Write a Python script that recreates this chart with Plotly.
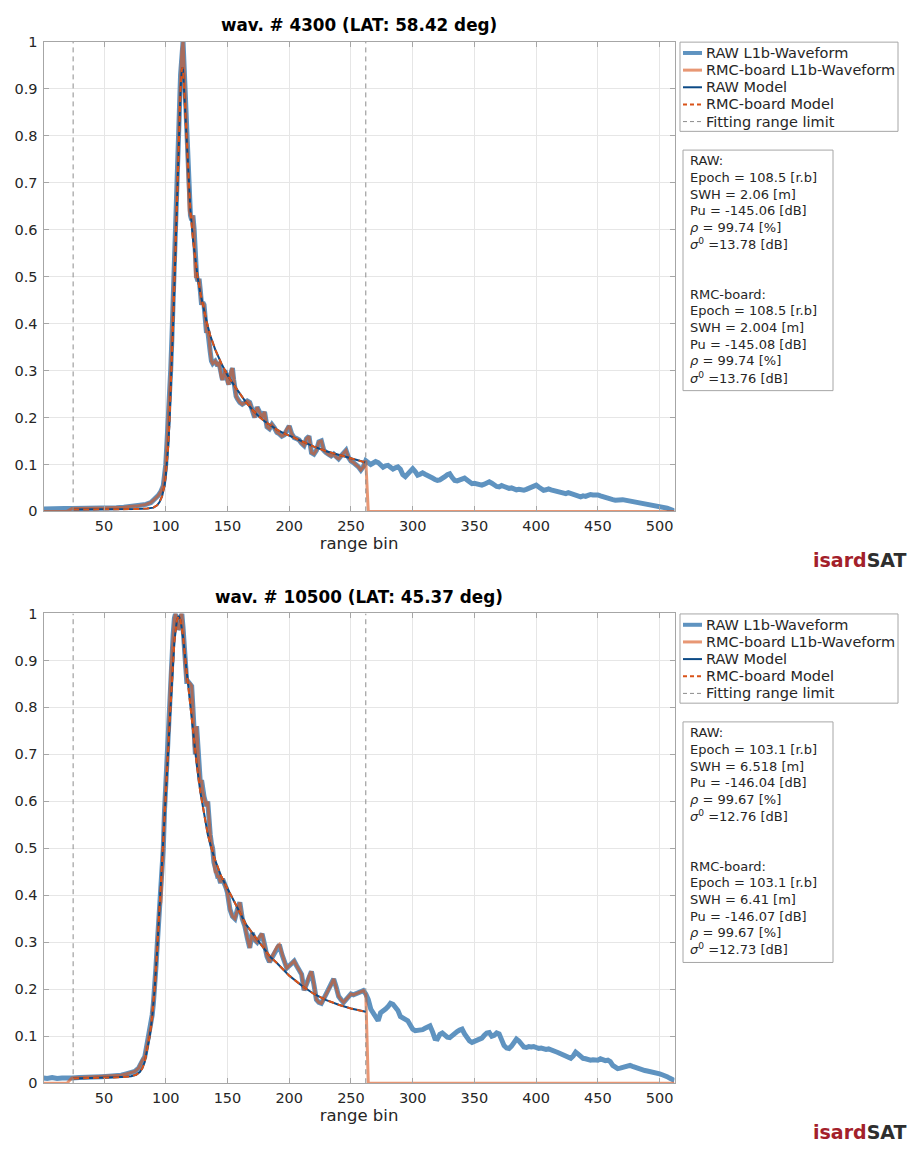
import plotly.graph_objects as go

# the page adds an 8px body margin, so the figure is 16px smaller than the window
W, H = 901, 1134
PAGE_OFF = 8

# ---- shared axis ticks ----
x_ticks = [50, 100, 150, 200, 250, 300, 350, 400, 450, 500]
y_ticks = [0, 0.1, 0.2, 0.3, 0.4, 0.5, 0.6, 0.7, 0.8, 0.9, 1]
y_labels = ["0", "0.1", "0.2", "0.3", "0.4", "0.5", "0.6", "0.7", "0.8", "0.9", "1"]
n_bins = 512
legend_names = ["RAW L1b-Waveform", "RMC-board L1b-Waveform", "RAW Model",
                "RMC-board Model", "Fitting range limit"]

# ---- top panel: wav. # 4300 ----
top_title = "wav. # 4300 (LAT: 58.42 deg)"
top_raw_bins = [1, 6, 12, 18, 24, 30, 36, 42, 48, 54, 60, 66, 72, 78, 84, 88, 91, 94, 96] \
    + list(range(98, 161)) + list(range(162, 513, 2))
top_raw_vals = [
    0.005, 0.006, 0.005, 0.006, 0.006, 0.006, 0.007, 0.007, 0.007, 0.008,
    0.008, 0.009, 0.011, 0.012, 0.015, 0.019, 0.026, 0.034, 0.042,
    # 98 .. 160
    0.055, 0.077, 0.10, 0.147, 0.19, 0.24, 0.30, 0.37, 0.44, 0.51,
    0.58, 0.65, 0.75, 0.85, 0.93, 0.98, 1.0, 0.94, 0.87, 0.80,
    0.72, 0.64, 0.63, 0.62, 0.63, 0.60, 0.50, 0.50, 0.49, 0.495,
    0.47, 0.44, 0.445, 0.44, 0.41, 0.38, 0.385, 0.37, 0.34, 0.32,
    0.315, 0.318, 0.32, 0.315, 0.31, 0.318, 0.30, 0.285, 0.28, 0.29,
    0.30, 0.29, 0.275, 0.27, 0.285, 0.30, 0.305, 0.28, 0.255, 0.245,
    0.24, 0.235, 0.232,
    # 162 .. 512 step 2
    0.228, 0.232, 0.235, 0.232, 0.215, 0.20, 0.222, 0.21, 0.20, 0.212,
    0.18, 0.176, 0.185, 0.178, 0.168, 0.165, 0.16, 0.163, 0.175, 0.182,
    0.165, 0.157, 0.155, 0.152, 0.145, 0.14, 0.155, 0.16, 0.125, 0.122,
    0.13, 0.148, 0.15, 0.13, 0.125, 0.12, 0.118, 0.122, 0.115, 0.112,
    0.118, 0.125, 0.13, 0.115, 0.107, 0.104, 0.10, 0.095, 0.088, 0.095,
    0.108, 0.104, 0.10, 0.103, 0.106, 0.104, 0.098, 0.094, 0.097, 0.098,
    0.094, 0.09, 0.093, 0.095, 0.09, 0.078, 0.074, 0.08, 0.088, 0.091,
    0.085, 0.077, 0.079, 0.082, 0.079, 0.077, 0.074, 0.071, 0.068, 0.066,
    0.067, 0.072, 0.074, 0.078, 0.08, 0.072, 0.066, 0.065, 0.068, 0.07,
    0.071, 0.067, 0.061, 0.059, 0.06, 0.058, 0.057, 0.056, 0.058, 0.06,
    0.063, 0.06, 0.056, 0.053, 0.052, 0.055, 0.053, 0.05, 0.049, 0.05,
    0.048, 0.046, 0.047, 0.045, 0.045, 0.047, 0.049, 0.05, 0.053, 0.056,
    0.052, 0.047, 0.045, 0.046, 0.048, 0.046, 0.045, 0.044, 0.042, 0.04,
    0.039, 0.038, 0.04, 0.038, 0.036, 0.034, 0.032, 0.031, 0.033, 0.032,
    0.034, 0.036, 0.035, 0.036, 0.035, 0.033, 0.031, 0.029, 0.028, 0.027,
    0.025, 0.024, 0.025, 0.024, 0.025, 0.024, 0.023, 0.022, 0.022, 0.021,
    0.02, 0.019, 0.019, 0.018, 0.017, 0.016, 0.015, 0.013, 0.011, 0.01,
    0.009, 0.008, 0.007, 0.005, 0.003, 0.001,
]
top_model_bins = [25, 40, 60, 75, 85, 90, 93, 95, 97, 99, 100, 101, 102, 103, 104, 105,
                  106, 107, 108, 109, 110, 111, 112, 113, 113.6, 114, 115, 116, 117, 118,
                  119, 120, 122, 124, 126, 128, 130, 133, 136, 140, 145, 150, 155, 160,
                  165, 170, 175, 180, 185, 190, 195, 200, 210, 220, 230, 240, 250, 262]
top_raw_model = [0.004, 0.004, 0.005, 0.005, 0.006, 0.008, 0.013, 0.02, 0.032, 0.055, 0.075,
                 0.10, 0.14, 0.19, 0.25, 0.32, 0.40, 0.48, 0.57, 0.66, 0.75, 0.83, 0.90,
                 0.94, 0.945, 0.94, 0.89, 0.83, 0.775, 0.725, 0.68, 0.64, 0.58, 0.53,
                 0.495, 0.465, 0.44, 0.405, 0.375, 0.345, 0.315, 0.29, 0.27, 0.25, 0.232,
                 0.217, 0.203, 0.192, 0.182, 0.174, 0.167, 0.161, 0.149, 0.138, 0.128,
                 0.12, 0.112, 0.104]
# the RMC-board model lies on top of the RAW model everywhere in the picture
top_rmc_model = list(top_raw_model)
top_fit_limits = [25, 262]
top_rmc_window = [21, 263]
top_raw_params = ["108.5", "2.06", "-145.06", "99.74", "13.78"]
top_rmc_params = ["108.5", "2.004", "-145.08", "99.74", "13.76"]

# ---- bottom panel: wav. # 10500 ----
bot_title = "wav. # 10500 (LAT: 45.37 deg)"
bot_raw_bins = [1, 4, 8, 12, 16, 20, 24, 30, 36, 42, 48, 54, 60, 64, 68, 72, 75, 78] \
    + list(range(80, 151)) + list(range(152, 513, 2))
bot_raw_vals = [
    0.011, 0.010, 0.012, 0.010, 0.011, 0.010, 0.011, 0.012, 0.012, 0.013,
    0.014, 0.015, 0.016, 0.017, 0.02, 0.022, 0.025, 0.032,
    # 80 .. 150
    0.045, 0.049, 0.052, 0.056, 0.07, 0.085, 0.098, 0.11, 0.12, 0.145,
    0.17, 0.2, 0.245, 0.29, 0.335, 0.378, 0.385, 0.43, 0.5, 0.58,
    0.64, 0.68, 0.72, 0.80, 0.87, 0.91, 0.955, 0.99, 1.0, 0.975,
    0.966, 0.97, 0.995, 1.0, 0.97, 0.92, 0.88, 0.855, 0.855, 0.852,
    0.85, 0.845, 0.80, 0.72, 0.70, 0.76, 0.70, 0.665, 0.64, 0.645,
    0.62, 0.61, 0.60, 0.59, 0.60, 0.55, 0.53, 0.51, 0.50, 0.47,
    0.45, 0.45, 0.44, 0.44, 0.43, 0.43, 0.435, 0.43, 0.42, 0.415,
    0.405,
    # 152 .. 512 step 2
    0.37, 0.355, 0.35, 0.37, 0.385, 0.35, 0.335, 0.31, 0.288, 0.32,
    0.305, 0.30, 0.312, 0.318, 0.295, 0.27, 0.258, 0.268, 0.28, 0.29,
    0.295, 0.275, 0.26, 0.245, 0.25, 0.255, 0.26, 0.25, 0.24, 0.232,
    0.198, 0.21, 0.228, 0.238, 0.21, 0.178, 0.172, 0.17, 0.18, 0.19,
    0.198, 0.21, 0.222, 0.205, 0.185, 0.178, 0.172, 0.178, 0.185, 0.19,
    0.188, 0.19, 0.193, 0.195, 0.197, 0.19, 0.178, 0.158, 0.148, 0.138,
    0.133, 0.15, 0.156, 0.158, 0.163, 0.17, 0.168, 0.163, 0.155, 0.142,
    0.14, 0.136, 0.133, 0.125, 0.115, 0.112, 0.113, 0.112, 0.114, 0.117,
    0.12, 0.122, 0.11, 0.095, 0.094, 0.104, 0.107, 0.102, 0.098, 0.097,
    0.102, 0.105, 0.11, 0.113, 0.115, 0.105, 0.096, 0.09, 0.087, 0.089,
    0.092, 0.094, 0.096, 0.102, 0.107, 0.108, 0.1, 0.102, 0.107, 0.105,
    0.09, 0.08, 0.075, 0.074, 0.079, 0.087, 0.094, 0.09, 0.082, 0.077,
    0.076, 0.078, 0.077, 0.078, 0.076, 0.074, 0.075, 0.073, 0.072, 0.073,
    0.07, 0.068, 0.067, 0.065, 0.063, 0.061, 0.058, 0.055, 0.053, 0.058,
    0.066, 0.062, 0.056, 0.053, 0.052, 0.05, 0.049, 0.05, 0.05, 0.049,
    0.052, 0.05, 0.048, 0.049, 0.046, 0.038, 0.033, 0.031, 0.032, 0.034,
    0.036, 0.037, 0.038, 0.036, 0.034, 0.031, 0.029, 0.028, 0.027, 0.026,
    0.025, 0.024, 0.024, 0.022, 0.02, 0.018, 0.017, 0.014, 0.011, 0.009,
    0.006,
]
bot_model_bins = [25, 40, 55, 65, 72, 76, 79, 81, 83, 85, 87, 89, 91, 93, 95, 97, 99, 101,
                  103, 105, 107, 109, 110.5, 112, 114, 116, 118, 120, 122, 125, 128, 131,
                  134, 137, 140, 145, 150, 155, 160, 165, 170, 175, 180, 185, 190, 195,
                  200, 210, 220, 230, 240, 250, 262]
bot_raw_model = [0.010, 0.011, 0.012, 0.013, 0.015, 0.018, 0.024, 0.032, 0.045, 0.07, 0.10,
                 0.14, 0.20, 0.28, 0.37, 0.46, 0.56, 0.66, 0.76, 0.86, 0.94, 0.985, 0.995,
                 0.985, 0.95, 0.90, 0.85, 0.80, 0.75, 0.68, 0.62, 0.57, 0.53, 0.50, 0.475,
                 0.44, 0.415, 0.39, 0.362, 0.338, 0.32, 0.303, 0.287, 0.268, 0.256, 0.243,
                 0.229, 0.208, 0.19, 0.177, 0.167, 0.159, 0.152]
bot_rmc_model = list(bot_raw_model)
bot_fit_limits = [25, 262]
bot_rmc_window = [21, 263]
bot_raw_params = ["103.1", "6.518", "-146.04", "99.67", "12.76"]
bot_rmc_params = ["103.1", "6.41", "-146.07", "99.67", "12.73"]

COLORS = {
    "raw": "#5f93c0",
    "rmc": "#d95319",
    "model": "#0c4a86",
    "fit": "#8c8c8c",
    "axis": "#a6a6a6",
    "grid": "#e6e6e6",
    "text": "#262626",
}
FONT = "DejaVu Sans"

# plot area in window pixels
X0, X1 = 43.5, 674.5
PLOT_H = 476.5


def fx(px):
    return (px - PAGE_OFF) / W


def fy(py):
    return 1 - (py - PAGE_OFF) / H


def stat_lines(label, p):
    return [label,
            f"Epoch = {p[0]} [r.b]",
            f"SWH = {p[1]} [m]",
            f"Pu = {p[2]} [dB]",
            f"<i>ρ</i> = {p[3]} [%]",
            f"<i>σ</i><sup>0</sup> ={p[4]} [dB]"]


def add_panel(fig, n, top_px, title, raw_bins, raw_vals, model_bins, raw_model, rmc_model,
              fit_limits, rmc_window, raw_params, rmc_params):
    xa, ya = ("x", "y") if n == 1 else (f"x{n}", f"y{n}")

    # RMC-board waveform: same samples as RAW inside its window, zero outside
    lo, hi = rmc_window
    inside = [(b, v) for b, v in zip(raw_bins, raw_vals) if lo <= b <= hi]
    rmc_x = [1, lo - 1] + [b for b, _ in inside] + [hi + 1, n_bins]
    rmc_y = [0, 0] + [v for _, v in inside] + [0, 0]
    a, b = fit_limits

    styles = [
        dict(color=COLORS["raw"], width=5),
        dict(color=COLORS["rmc"], width=3),
        dict(color=COLORS["model"], width=2),
        dict(color=COLORS["rmc"], width=2, dash="6px,4px"),
        dict(color=COLORS["fit"], width=1, dash="5px,4px"),
    ]
    opac = [1, 0.6, 1, 1, 1]
    series = [
        (raw_bins, raw_vals),
        (rmc_x, rmc_y),
        (model_bins, raw_model),
        (model_bins, rmc_model),
        ([a, a, None, b, b], [0, 1, None, 0, 1]),
    ]
    for (xs, ys), name, st, op in zip(series, legend_names, styles, opac):
        fig.add_trace(go.Scatter(x=xs, y=ys, name=name, mode="lines", line=st, opacity=op,
                                 xaxis=xa, yaxis=ya, showlegend=False, hoverinfo="skip"))

    axis_common = dict(showline=True, linecolor=COLORS["axis"], linewidth=1, mirror="ticks",
                       ticks="inside", ticklen=5, tickcolor=COLORS["axis"], showgrid=True,
                       gridcolor=COLORS["grid"], zeroline=False,
                       tickfont=dict(size=14.5, color=COLORS["text"], family=FONT))
    fig.layout[f"xaxis{'' if n == 1 else n}"] = dict(
        axis_common, domain=[fx(X0), fx(X1)], anchor=ya, range=[1, n_bins],
        tickvals=x_ticks, ticklabelstandoff=1,
        title=dict(text="range bin", font=dict(size=16.5, color=COLORS["text"]), standoff=2))
    fig.layout[f"yaxis{'' if n == 1 else n}"] = dict(
        axis_common, domain=[fy(top_px + PLOT_H), fy(top_px)], anchor=xa, range=[0, 1],
        tickvals=y_ticks, ticktext=y_labels, ticklabelstandoff=2)

    # legend box drawn by hand so that row spacing matches
    fig.add_shape(type="rect", xref="paper", yref="paper", x0=fx(680), x1=fx(898),
                  y0=fy(top_px + 91), y1=fy(top_px + 0.5),
                  line=dict(color=COLORS["axis"], width=1), fillcolor="white", layer="above")
    for i, (name, st, op) in enumerate(zip(legend_names, styles, opac)):
        yy = fy(top_px + 11.5 + i * 17.4)
        fig.add_shape(type="line", xref="paper", yref="paper", x0=fx(683), x1=fx(702),
                      y0=yy, y1=yy, opacity=op, layer="above",
                      line=dict(color=st["color"], width=min(st["width"], 4),
                                dash="4px,3px" if "dash" in st else "solid"))
        fig.add_annotation(xref="paper", yref="paper", x=fx(703.5), y=yy, text=name,
                           showarrow=False, xanchor="left", yanchor="middle",
                           font=dict(size=14.5, color=COLORS["text"], family=FONT))

    # title
    fig.add_annotation(xref="paper", yref="paper", x=fx((X0 + X1) / 2), y=fy(top_px - 16.5),
                       text=f"<b>{title}</b>", showarrow=False, xanchor="center",
                       yanchor="middle", font=dict(size=16.8, color="black", family=FONT))

    # fit parameters box
    fig.add_shape(type="rect", xref="paper", yref="paper", x0=fx(683), x1=fx(833),
                  y0=fy(top_px + 354), y1=fy(top_px + 110),
                  line=dict(color=COLORS["axis"], width=1), fillcolor="white", layer="above")
    lines = stat_lines("RAW:", raw_params) + ["", ""] + stat_lines("RMC-board:", rmc_params)
    for i, txt in enumerate(lines):
        if not txt:
            continue
        fig.add_annotation(xref="paper", yref="paper", x=fx(688), y=fy(top_px + 121 + i * 16.9),
                           text=txt, showarrow=False, xanchor="left", yanchor="middle",
                           font=dict(size=13, color=COLORS["text"], family=FONT))

    # logo
    fig.add_annotation(xref="paper", yref="paper", x=1.0, y=fy(top_px + 526),
                       text='<span style="color:#a3202a">isard</span>'
                            '<span style="color:#2e2e2e">SAT</span>',
                       showarrow=False, xanchor="right", yanchor="middle",
                       font=dict(size=19, family=FONT, weight="bold"))


fig = go.Figure()
add_panel(fig, 1, 34, top_title, top_raw_bins, top_raw_vals, top_model_bins, top_raw_model,
          top_rmc_model, top_fit_limits, top_rmc_window, top_raw_params, top_rmc_params)
add_panel(fig, 2, 614, bot_title, bot_raw_bins, bot_raw_vals, bot_model_bins, bot_raw_model,
          bot_rmc_model, bot_fit_limits, bot_rmc_window, bot_raw_params, bot_rmc_params)

fig.update_layout(
    width=W, height=H, margin=dict(l=0, r=0, t=0, b=0),
    paper_bgcolor="white", plot_bgcolor="white",
    font=dict(family=FONT, color=COLORS["text"]),
    showlegend=False,
)

fig.write_html("out.html")
